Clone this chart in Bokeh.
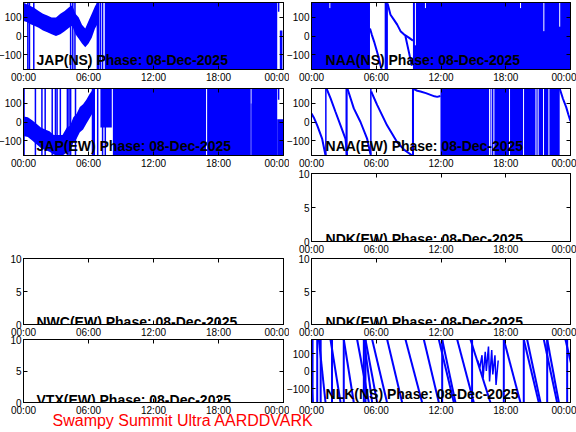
from bokeh.plotting import figure
from bokeh.models import Range1d, FixedTicker, LinearAxis, Label, Spacer
from bokeh.layouts import row, column
from bokeh.embed import file_html
from bokeh.resources import INLINE

BLUE = "#0000ff"
FONT = "Liberation Sans"

# ---------------- axes / texts ----------------
hour_ticks = [0, 6, 12, 18, 24]
hour_labels = ["00:00", "06:00", "12:00", "18:00", "00:00"]
phase_ticks = [-100, 0, 100]
empty_ticks = [0, 5, 10]
date_text = "08-Dec-2025"
footer_text = "Swampy Summit Ultra AARDDVARK"

# ---------------- JAP(NS) ----------------
jns_band_t = [0.0, 0.3, 0.6, 1.0, 1.4, 1.8, 2.2, 2.6, 3.0, 3.4, 3.8, 4.2, 4.5, 4.8, 5.1, 5.4, 5.7, 6.0, 6.3, 6.6, 6.8]
jns_band_hi = [178, 170, 162, 150, 135, 120, 110, 100, 100, 120, 135, 155, 165, 120, 100, 60, 40, 80, 120, 160, 180]
jns_band_lo = [80, 75, 65, 55, 45, 30, 20, 10, 0, 10, 25, 45, 55, 10, -15, -40, -60, -40, -10, 40, 60]
jns_spike_t = [0.4, 0.55, 0.95, 4.35, 4.55, 4.75, 7.1, 7.3, 23.55]
jns_spike_lo = [-180, -180, -180, -180, -180, -180, -180, -180, 130]
jns_spike_hi = [180, 180, 180, 180, 180, 180, 180, 180, 180]
jns_blk_t0 = [6.75, 7.5, 23.66]
jns_blk_t1 = [7.0, 23.42, 23.9]
jns_blk_lo = [-180, -180, -180]
jns_blk_hi = [180, 180, 30]

# ---------------- JAP(EW) ----------------
jew_band_t = [0.0, 0.4, 0.8, 1.2, 1.6, 2.0, 2.4, 2.8, 3.2, 3.6, 4.0, 4.3, 4.6, 4.9, 5.2, 5.5, 5.8, 6.1, 6.4]
jew_band_hi = [30, 25, 10, -10, -30, -40, -50, -70, -70, -70, -30, -20, 25, 45, 80, 95, 120, 150, 175]
jew_band_lo = [-75, -80, -100, -120, -140, -150, -160, -175, -180, -180, -165, -160, -110, -90, -55, -40, -10, 20, 50]
jew_spike_t = [0.05, 1.1, 1.7, 2.0, 2.65, 2.95, 3.1, 3.4, 4.05, 4.2, 4.35, 4.8, 6.85, 7.3, 7.55, 23.55]
jew_spike_lo = [-180] * 15 + [120]
jew_spike_hi = [180] * 16
jew_blk_t0 = [6.3, 7.1, 8.25, 16.95, 20.97, 21.05, 23.42]
jew_blk_t1 = [6.6, 8.15, 16.85, 20.97, 21.05, 23.42, 24.0]
jew_blk_lo = [-180, -30, -180, -180, -180, -180, -180]
jew_blk_hi = [180, 180, 180, 180, 100, 180, 15]

# ---------------- NAA(NS) ----------------
nns_blk_t0 = [0.0, 6.78, 9.4]
nns_blk_t1 = [5.42, 7.08, 24.0]
nns_blk_lo = [-180, -180, -180]
nns_blk_hi = [180, 180, 180]
nns_c1_t = [5.42, 5.6, 5.8, 6.0, 6.2, 6.4, 6.5]
nns_c1_y = [40, 5, -30, -70, -110, -160, -180]
nns_c2_t = [7.05, 7.32, 7.63, 7.94, 8.25, 8.56, 9.02, 9.4]
nns_c2_y = [175, 114, 88, 61, 26, 9, -9, -25]
nns_c3_t = [8.7, 9.0, 9.3]
nns_c3_y = [0, -80, -160]
nns_gap_t = [1.7, 9.63, 10.56, 19.37, 21.53, 23.0]
nns_gap_lo = [150, -50, 150, 150, 26, 50]
nns_gap_hi = [180, 180, 180, 180, 180, 180]

# ---------------- NAA(EW) ----------------
new_c1_t = [0.0, 0.25, 0.53, 0.99, 1.3]
new_c1_y = [45, 20, -18, -91, -180]
new_c2_t = [1.39, 1.76, 2.22, 2.69, 3.15, 3.3]
new_c2_y = [180, 128, 55, -18, -91, -180]
new_c3_t = [3.33, 3.92, 4.54, 5.16, 5.47]
new_c3_y = [180, 73, 0, -91, -175]
new_c4_t = [5.53, 6.09, 7.0, 7.94, 8.6, 9.33]
new_c4_y = [164, 91, -18, -109, -150, -180]
new_c5_t = [9.45, 9.8, 10.1, 10.6, 11.03, 11.4, 11.65, 11.95]
new_c5_y = [178, 168, 164, 155, 146, 138, 135, 140]
new_c6_t = [23.0, 23.3, 23.6, 23.8, 24.0]
new_c6_y = [180, 125, 80, 40, 5]
new_spike_t = [1.33, 3.22, 3.28, 5.5, 9.38, 9.43]
new_spike_lo = [-180] * 6
new_spike_hi = [180] * 6
new_blk_t0 = [11.95]
new_blk_t1 = [23.0]
new_blk_lo = [-180]
new_blk_hi = [180]
new_gap_t = [16.5, 16.65, 16.9, 18.35, 19.65, 20.8, 21.0, 21.5, 22.0]
new_gap_lo = [-180] * 9
new_gap_hi = [180] * 9

# ---------------- NLK(NS) ----------------
nlk_top_t = [-0.3, 0.68, 1.76, 2.99, 4.23, 4.85, 5.00, 5.62, 7.01, 8.71, 10.41, 11.80, 12.11,
             13.50, 14.73, 17.82, 19.67, 19.98, 21.53, 21.84, 23.53]
nlk_bot_t = [0.12, 1.30, 2.69, 3.92, 5.31, 5.62, 6.08, 7.0, 8.40, 10.25, 11.80, 13.19, 13.34,
             15.04, 16.58, 19.36, 21.06, 21.22, 22.76, 22.92, 24.9]
nlk_wrap_t = [0.1, 0.53, 0.85, 1.9, 2.99, 4.85, 5.0, 12.11, 14.88, 17.82, 19.67, 21.84, 23.69]
nlk_noise_t = [15.4, 15.6, 15.8, 15.9, 16.1, 16.2, 16.4, 16.5, 16.7, 16.8, 17.0, 17.1, 17.3]
nlk_noise_y = [60, 20, 90, -40, 110, 0, 140, -60, 120, -20, 90, -80, 60]
phase_wrap_hi = 180
phase_wrap_lo = -180


def style_axis(ax, show_labels):
    ax.axis_line_color = "black"
    ax.major_tick_line_color = "black"
    ax.major_tick_in = 4
    ax.major_tick_out = 0
    ax.minor_tick_line_color = None
    if show_labels:
        ax.major_label_text_font = FONT
        ax.major_label_text_font_size = "10px"
        ax.major_label_text_color = "black"
        ax.major_label_standoff = 2
    else:
        ax.major_label_text_color = None
        ax.major_label_standoff = 0


BL = 30  # left border (binding minimum)


def make_fig(width, height, shift, bt, bb, yr, yticks, title, tx, ty):
    p = figure(width=width, height=height, x_range=Range1d(0, 24), y_range=Range1d(*yr),
               output_backend="svg", toolbar_location=None,
               min_border_left=BL, min_border_right=6, min_border_top=bt, min_border_bottom=bb,
               border_fill_color=None, background_fill_color=None,
               outline_line_color="black", outline_line_width=1,
               margin=(0, 0, 0, shift))
    p.grid.visible = False
    p.xaxis.ticker = FixedTicker(ticks=hour_ticks)
    p.xaxis.major_label_overrides = {t: l for t, l in zip(hour_ticks, hour_labels)}
    p.yaxis.ticker = FixedTicker(ticks=yticks)
    for ax in p.xaxis:
        style_axis(ax, True)
    for ax in p.yaxis:
        style_axis(ax, True)
    top = LinearAxis(ticker=FixedTicker(ticks=hour_ticks))
    style_axis(top, False)
    p.add_layout(top, "above")
    right = LinearAxis(ticker=FixedTicker(ticks=yticks))
    style_axis(right, False)
    p.add_layout(right, "right")
    p.add_layout(Label(x=tx, y=ty, text=title, text_font=FONT, text_font_size="14px",
                       text_font_style="bold", text_color="black", text_baseline="alphabetic"))
    return p


def draw(p, band=None, blocks=None, spikes=None, curves=None, gaps=None):
    if band:
        p.varea(x=band[0], y1=band[2], y2=band[1], fill_color=BLUE)
    if blocks:
        p.quad(left=blocks[0], right=blocks[1], bottom=blocks[2], top=blocks[3],
               fill_color=BLUE, line_color=None)
    if spikes:
        p.segment(x0=spikes[0], y0=spikes[1], x1=spikes[0], y1=spikes[2],
                  line_color=BLUE, line_width=1.5)
    if curves:
        for ct, cy in curves:
            p.line(ct, cy, line_color=BLUE, line_width=2)
    if gaps:
        p.segment(x0=gaps[0], y0=gaps[1], x1=gaps[0], y1=gaps[2], line_color="white", line_width=1)


# left: frame 23..283 (canvas starts at -7); right: frame 311..570 (canvas starts at 281)
LW, RW = BL + 260 + 6, BL + 259 + 6
LS, RS = 23 - BL, -8
PH = (-180, 180)
EH = (0, 10)
LTX, RTX = 1.2, 1.3
PTY, ETY = -130, 0.35

# Row 1
f_jns = make_fig(LW, 86, LS, 2, 17, PH, phase_ticks, "JAP(NS) Phase: " + date_text, LTX, PTY)
draw(f_jns, band=(jns_band_t, jns_band_hi, jns_band_lo),
     blocks=(jns_blk_t0, jns_blk_t1, jns_blk_lo, jns_blk_hi),
     spikes=(jns_spike_t, jns_spike_lo, jns_spike_hi))
f_nns = make_fig(RW, 86, RS, 2, 17, PH, phase_ticks, "NAA(NS) Phase: " + date_text, RTX, PTY)
draw(f_nns, blocks=(nns_blk_t0, nns_blk_t1, nns_blk_lo, nns_blk_hi),
     curves=[(nns_c1_t, nns_c1_y), (nns_c2_t, nns_c2_y), (nns_c3_t, nns_c3_y)],
     gaps=(nns_gap_t, nns_gap_lo, nns_gap_hi))

# Row 2
f_jew = make_fig(LW, 85, LS, 2, 16, PH, phase_ticks, "JAP(EW) Phase: " + date_text, LTX, PTY)
draw(f_jew, band=(jew_band_t, jew_band_hi, jew_band_lo),
     blocks=(jew_blk_t0, jew_blk_t1, jew_blk_lo, jew_blk_hi),
     spikes=(jew_spike_t, jew_spike_lo, jew_spike_hi))
f_new = make_fig(RW, 85, RS, 2, 16, PH, phase_ticks, "NAA(EW) Phase: " + date_text, RTX, PTY)
draw(f_new, blocks=(new_blk_t0, new_blk_t1, new_blk_lo, new_blk_hi),
     spikes=(new_spike_t, new_spike_lo, new_spike_hi),
     curves=[(new_c1_t, new_c1_y), (new_c2_t, new_c2_y), (new_c3_t, new_c3_y),
             (new_c4_t, new_c4_y), (new_c5_t, new_c5_y), (new_c6_t, new_c6_y)],
     gaps=(new_gap_t, new_gap_lo, new_gap_hi))

# Row 3
f_ndk1 = make_fig(RW, 92, RS, 8, 16, EH, empty_ticks, "NDK(EW) Phase: " + date_text, RTX, ETY)

# Row 4
f_nwc = make_fig(LW, 90, LS, 8, 16, EH, empty_ticks, "NWC(EW) Phase: " + date_text, LTX, ETY)
f_ndk2 = make_fig(RW, 90, RS, 8, 16, EH, empty_ticks, "NDK(EW) Phase: " + date_text, RTX, ETY)

# Row 5
f_vtx = make_fig(LW, 90, LS, 8, 16, EH, empty_ticks, "VTX(EW) Phase: " + date_text, LTX, ETY)
f_nlk = make_fig(RW, 90, RS, 11, 16, PH, phase_ticks, "NLK(NS) Phase: " + date_text, RTX, PTY)
f_nlk.segment(x0=nlk_top_t, y0=[phase_wrap_hi] * len(nlk_top_t), x1=nlk_bot_t,
              y1=[phase_wrap_lo] * len(nlk_bot_t), line_color=BLUE, line_width=2)
f_nlk.segment(x0=nlk_wrap_t, y0=[phase_wrap_lo] * len(nlk_wrap_t), x1=nlk_wrap_t,
              y1=[phase_wrap_hi] * len(nlk_wrap_t), line_color=BLUE, line_width=2)
f_nlk.line(nlk_noise_t, nlk_noise_y, line_color=BLUE, line_width=1.5)

# Footer
foot = figure(width=576, height=32, x_range=Range1d(0, 576), y_range=Range1d(32, 0),
              output_backend="svg", toolbar_location=None, min_border=0,
              x_axis_type=None, y_axis_type=None, border_fill_color=None,
              background_fill_color=None, outline_line_color=None, margin=(-18, 0, 0, 0))
foot.grid.visible = False
foot.add_layout(Label(x=52, y=20, text=footer_text, text_color="red", text_font=FONT,
                      text_font_size="16px", text_baseline="alphabetic"))

r1 = row([f_jns, f_nns])
r2 = row([f_jew, f_new])
r3 = row([Spacer(width=289, height=92), f_ndk1], margin=(-6, 0, 0, 0))
r4 = row([f_nwc, f_ndk2], margin=(-7, 0, 0, 0))
r5 = row([f_vtx, f_nlk], margin=(-12, 0, 0, 0))
root = column([r1, r2, r3, r4, r5, foot])

open("out.html", "w").write(file_html(root, INLINE))
